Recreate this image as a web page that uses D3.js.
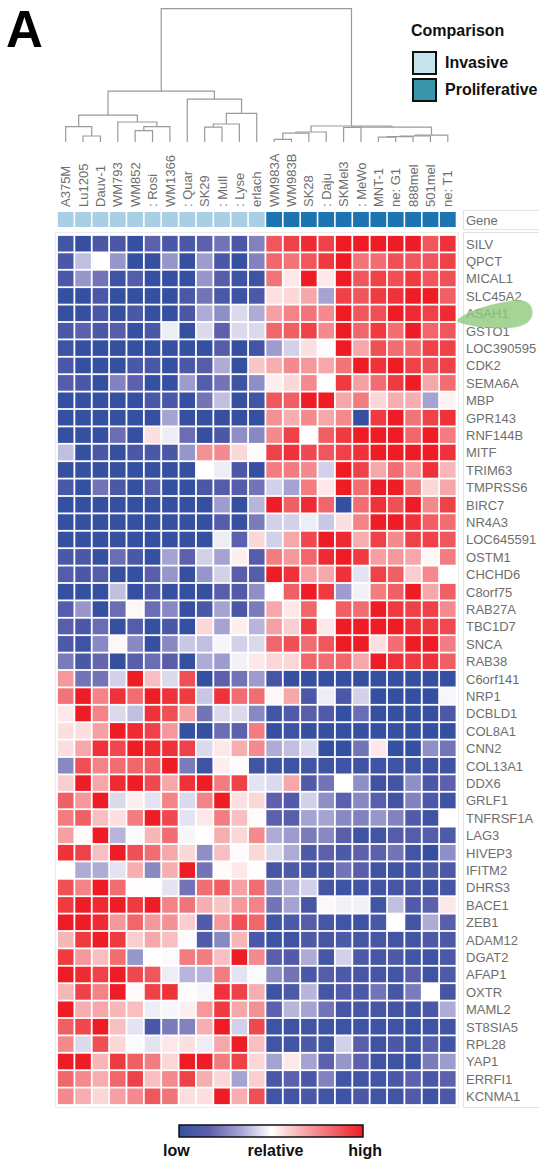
<!DOCTYPE html>
<html><head><meta charset="utf-8">
<script src="https://cdn.jsdelivr.net/npm/d3@7"></script>
<style>html,body{margin:0;padding:0;background:#fff}svg{display:block}</style>
</head><body>
<script>
const samples = ["A375M","Lu1205","Dauv-1","WM793","WM852",": Rosi","WM1366",": Quar","SK29",": Mull",": Lyse","erlach",
 "WM983A","WM983B","SK28",": Daju","SKMel3",": MeWo","MNT-1","ne: G1","888mel","501mel","ne: T1"];
const sampleGroup = ["Invasive","Invasive","Invasive","Invasive","Invasive","Invasive","Invasive","Invasive","Invasive","Invasive","Invasive","Invasive",
 "Proliferative","Proliferative","Proliferative","Proliferative","Proliferative","Proliferative","Proliferative","Proliferative","Proliferative","Proliferative","Proliferative"];
const groupNames = ["Invasive","Proliferative"];
const genes = ["SILV","QPCT","MICAL1","SLC45A2","ASAH1","GSTO1","LOC390595","CDK2","SEMA6A","MBP","GPR143","RNF144B","MITF","TRIM63","TMPRSS6","BIRC7","NR4A3","LOC645591","OSTM1","CHCHD6","C8orf75","RAB27A","TBC1D7","SNCA","RAB38","C6orf141","NRP1","DCBLD1","COL8A1","CNN2","COL13A1","DDX6","GRLF1","TNFRSF1A","LAG3","HIVEP3","IFITM2","DHRS3","BACE1","ZEB1","ADAM12","DGAT2","AFAP1","OXTR","MAML2","ST8SIA5","RPL28","YAP1","ERRFI1","KCNMA1"];
// relative expression (low < 0 < high), one row per gene, one value per sample
const expression = [
 [-2.7,-3,-2.5,-2.5,-3,-2,-2.5,-2.5,-2,-1.7,-2.5,-1.5, 2.2,2.5,2.8,2.5,3,3,3,3,3,2.2,2.7],
 [-2.5,-0.7,0,-1.2,-3,-3,-1.2,-3,-1.1,-2.5,-3,-1.5, 2,1.8,2.2,2.6,3,1.8,1.9,2.3,2.2,2.2,2.5],
 [-2.5,-1.2,-1.7,-2.8,-2.2,-3,-3,-3,-1.2,-2.2,-2.8,-2.8, 1.8,0.3,3,0.3,3,2.2,2.5,2.3,2.6,2.2,2.3],
 [-3,-3,-2.5,-3,-3,-3,-3,-2.5,-1.7,-2.5,-2.8,-2.5, 0.4,0.5,1.1,-1,2.5,2.2,2.6,2.7,3,3,2.1],
 [-3,-3,-2.5,-3,-2.5,-3,-3,-2.5,-0.9,-1.3,-0.4,-0.9, 1.2,1.6,1.8,1.5,3,2.2,2.3,3,2.8,2.5,2.8],
 [-2.5,-2,-2.5,-2.2,-3,-2.5,-0.2,-3,-0.4,-2,-0.4,-0.4, 2,2.1,2.5,1.5,3,2,2.6,1.9,3,2,2.2],
 [-2.8,-3,-3,-3,-3,-3,-3,-3,-3,-2.2,-3,-2.7, -1.1,-0.5,0.4,-0.05,3,1.1,2.3,1.9,1.9,2.5,2.5],
 [-2.5,-3,-3,-3,-2.5,-2.5,-3,-2.5,-2.2,-0.9,-3,0.7, 1,1.5,1.3,1.1,1.8,3,2.7,3,2.5,2.3,2.5],
 [-2.2,-2.5,-3,-1.5,-2,-3,-3,-1.1,-2.2,-1.7,-2.8,-1.3, 0.2,0.5,1.5,0,2.6,1.2,1.9,2.6,3,1.1,1.9],
 [-3,-3,-3,-3,-3,-2.5,-2.5,-3,-1.7,-0.7,-3,-2.7, 2.2,2.1,3,3,1.1,1.7,0.5,1,1,-1,0.15],
 [-3,-3,-3,-3,-3,-3,-1,-3,-3,-3,-3,-3, 1.4,1,1.5,1.1,1.5,-3,2.6,3,1.8,2.5,2.7],
 [-3,-3,-3,-1.8,-3,0.4,-0.2,-1.8,-3,-2.5,-1.3,-1.4, 1.5,2.5,0,2.1,2.6,3,3,3,2,3,1.7],
 [-0.7,-3,-2.5,-3,-2.5,-2.5,-2.5,-1.2,1.4,1.5,0.5,0.05, 2.5,2.7,2.4,2.2,2.5,2.7,3,3,3,3,2.7],
 [-3,-3,-3,-3,-3,-3,-3,-3,0,-0.2,-2.5,-3, 1.7,1.7,1.5,-0.5,3,2.5,1.1,1.9,1.3,2.7,0.9],
 [-2.5,-3,-1.7,-2.5,-3,-2.2,-3,-3,-2.5,-2.2,-2.2,-1.7, -0.5,-1,1.7,0.3,3,1.9,3,3,1.7,0.5,1.1],
 [-3,-3,-3,-3,-3,-3,-3,-3,-3,-1.1,-3,-0.8, 3,2.1,2.8,2,-3,1.9,2.7,2.3,3,1.5,2.5],
 [-3,-3,-3,-3,-3,-3,-3,-3,-3,-2.2,-3,-1.6, -0.5,-0.5,-0.2,-0.6,0.4,1.6,3,3,2.7,2.1,1.9],
 [-3,-3,-3,-3,-3,-3,-3,-3,-3,-0.2,-2,0.5, -0.5,1.1,2.4,3,2.8,1,2.5,1.5,2.5,2.5,2.2],
 [-2.5,-2.5,-3,-1.8,-2.5,-3,-1,-2,-0.5,-1,0.2,-2.2, 1.7,1.3,2,2.8,3,2.6,1.2,1.3,1.1,0.1,1.7],
 [-2.2,-2.5,-2.2,-3,-3,-2.1,-1.2,-3,-1.2,-0.5,-2.1,-2.2, 3,2.7,1.2,1.1,2.7,-0.3,2.5,2.1,0.6,1.5,0],
 [-3,-3,-3,-0.7,-3,-2.5,-3,-3,-3,-2.1,-2.3,-1.3, 0,2.1,3,2.6,-1.1,-0.15,1.7,2.1,3,1.1,2.1],
 [-2.2,-1.2,-3,-1.8,0.1,-1.8,-1.4,-3,-2.5,-1,-2.5,-1.6, 1.1,0.3,2,0,2.1,1.9,3,2.6,2.5,2.5,1.5],
 [-2.1,-2.5,-1.8,-3,-2.2,-3,-2.5,-3,0.5,-1,0.2,-0.8, 1.2,0.6,2.6,0.3,3,3,3,3,2.7,2.6,2.4],
 [-2.4,-2.8,-1.4,0.1,-1.4,-3,-1.4,-0.6,-0.7,-0.1,-0.5,-0.4, 2,2.3,1.9,2.2,3,3,0.4,1.9,3,3,1.7],
 [-1.6,-2.5,-1.9,-3,-2.1,-1.8,-2.1,-3,-0.9,-1.1,-0.15,0.3, 0.5,0.5,2,1.9,2,1.1,3,2.7,2.6,2.7,2.1],
 [1.3,-1.7,-1.7,-0.5,3,0.8,-0.4,2.3,-3,-2,-1.7,-1.1, -2.6,-3,-3,-3,-3,-3,-3,-3,-3,-3,-3],
 [1.8,3,1.6,2.7,1.9,3,2.7,2.6,-0.6,2.7,1.9,1.9, 0.1,1.1,-2.5,-0.2,-2.5,-0.5,-3,-3,-3,-3,-0.1],
 [0.3,3,1.6,-0.4,-0.7,2.7,2.3,1.2,-1.7,-0.4,-0.4,-1.4, -2.7,-2.3,-2.1,-2.3,-3,-1.8,-3,-3,-3,-3,-2.5],
 [0.4,0.4,1.2,3,2.8,2.5,1.3,-3,-3,-1.8,-2,1.7, -3,-2.8,-3,-3,-3,-3,-3,-3,-3,-3,-3],
 [0.4,1.1,2.7,2.4,3,2.8,2.7,2.5,-0.4,0.3,1,1.5, -0.9,-0.7,-0.4,-3,-3,-1.7,0.3,-3,-3,-1.3,-1.7],
 [-1.4,2.3,1.6,1.9,2,2.1,3,-1.6,-2.8,0.2,0.05,-2.7, -2.8,-2.8,-2.7,-2.8,-2.8,-2.8,-2.8,-2.8,-2.8,-2.8,-2.8],
 [0.6,3,1.1,2.8,3,2.4,1.1,2.7,3,1.7,2.5,-0.3, -0.4,1.1,-2.3,-1.7,0,-1.3,-2.8,-2.7,-1.3,-2.5,-2],
 [2.1,1.3,3,-0.4,0.2,-0.3,1.6,-0.4,1.6,3,0.4,0.5, -2,-2.3,-0.5,-1.3,-2,-1.4,-2.1,-2.7,-1.5,-2.4,-2.8],
 [1.7,2.1,0.8,0.4,1.7,3,2.4,-0.3,0.3,1.7,0.8,0.05, -2,-2.1,-1,-1,-1.4,-1.5,-1.2,-1.5,-2.3,-2.8,0],
 [1.2,0.05,3,-0.8,-0.05,0.9,1.9,-0.1,0,1,0.5,1.5, -0.9,-1.1,-1.6,-1.4,-2.1,-2.8,-2.7,-2.2,-2.2,-2.2,-2.4],
 [2.7,2.5,0.8,3,2.3,1.9,1.1,0.5,-1.3,0.8,0.05,0.5, -0.4,-0.9,-2.4,-2,-2.4,-2,-2,-1.7,-2.7,-3,-1.3],
 [0,-0.9,-0.9,-0.3,1,-1.4,1,3,-1.7,0.05,0.3,0.02, -2.6,-2.4,-2.6,-2.7,-1.7,-2.1,-2.8,-2.8,-2.7,-2.4,-2.5],
 [2.3,1.6,3,1.9,0.02,0.02,-0.3,-1.7,1.9,2.1,1.2,1.9, -1.3,-0.9,-0.5,-2.6,-2.8,-2.7,-2.7,-2.6,-2.6,-2.8,-2.6],
 [2.6,3,2.8,3,2.6,3,1.6,1.8,1,0.7,1.3,1.6, -1.7,-1,-2.6,0.1,-0.15,-0.15,-2.7,-0.7,-2.3,-2,0.3],
 [3,3,2.8,1.3,2,1.3,1.4,0.6,-2.3,1.3,2.3,2, -2.7,-2.4,-2.2,-2.6,-2.7,-2.8,-2.5,0,-2.7,-0.9,-2.1],
 [0.9,2.6,3,2.6,0.6,1.1,0.8,-0.05,-2.3,-1.4,0.9,-2.5, -2.8,-2.8,-2.4,-2.6,-2.4,-2.6,-2.6,-2.7,-2.7,-2.4,-2.5],
 [2.6,1.3,0.8,1.9,-1.2,0,-0.05,1.7,1.7,0.8,3,1.5, -2.1,-2.3,-0.9,-2.6,-0.5,-2.4,-2.6,-2.4,-2.7,-2.8,-2.5],
 [3,2.8,2.5,3,2.4,2.2,-0.2,-0.8,-0.8,1.7,-0.3,-0.05, -1.3,-1.7,-2.5,-2.2,-2.4,-2.6,-2.6,-2.7,-2.1,-2.8,-2.4],
 [0.9,2.5,1.6,3,0.05,2.5,2.7,0.05,-0.1,2.7,2.5,1, -2.8,-2.4,-0.8,-2.6,-2.3,-2.5,-1.7,-2.6,-1.6,0,-2.6],
 [3,1,1.1,0.9,0.8,-0.2,-0.1,0.2,1.3,2.6,1.1,1.4, -2,-0.8,-1,-1.7,-2.6,-2.6,-2.6,-2.7,-2.7,-2.5,-0.9],
 [2.1,2.4,3,0.8,-0.3,-2.5,-1.6,-1.5,1,3,-0.5,2.4, -2.8,-2.8,-2.7,-2.8,-2.8,-2.8,-2.8,-2.8,-2.9,-2.8,-2.7],
 [1.5,-0.4,2.3,0.5,-0.05,-0.3,0.3,0.4,-0.2,1.1,3,0.8, -2.7,-2.7,-2.4,-2.7,-0.5,-2.1,-2.8,-2.5,-2.7,-2.1,-2.7],
 [3,3,0.9,2.6,2.1,1.7,0.5,3,3,1.7,2.5,0.5, -1,0.3,-1,-2,-1.2,-2,-2.8,-2.8,-2.8,-1.6,-1.1],
 [2,1.5,1,2,2.5,0.8,1.5,2.5,1,0.5,-1,0.6, -2.5,-2,-2.5,-1.5,-2.7,-2.7,-2.7,-2.5,-2,-2.5,-2],
 [1.5,1,0.5,1.2,1.5,2.2,1.8,0.4,0.4,3,1,2.3, -2.7,-2.7,-2.5,-2.7,-2.8,-2.5,-2.7,-2.7,-2.3,-2.8,-2.5]
];
// sample dendrogram: [childA, childB, height]; leaves 0..22, merge k creates node 23+k
const dendroMerges = [
 [1,2,0.45],[0,23,1.16],[4,5,0.85],[25,6,1.16],[3,26,1.5],[24,27,2.02],
 [8,9,1.12],[29,10,1.35],[30,11,2.14],[7,31,3.22],[28,32,3.82],
 [12,13,0.2],[34,14,0.67],[35,15,0.75],
 [18,19,0.37],[37,20,0.41],[38,21,0.45],[39,22,0.52],[16,17,1.1],[41,40,1.12],[36,42,1.2],
 [33,43,10]
];
const legendStops = [-3,-2,-1,0,1,2,3];
const legendColors = ["#3650a1","#5d60ac","#a5a3d2","#ffffff","#f7aeb1","#f0666b","#ee1c24"];
const legendLabels = ["low","relative","high"];

const W = 539, H = 1162;
const svg = d3.select("body").append("svg").attr("width", W).attr("height", H)
  .style("font-family","'Liberation Sans', Arial, sans-serif");

const x = d3.scaleBand().domain(d3.range(samples.length)).range([57, 456.5]);
const y = d3.scaleBand().domain(genes).range([235, 1105]);
const color = d3.scaleLinear().domain(legendStops).range(legendColors).clamp(true);
const groupColor = d3.scaleOrdinal().domain(groupNames).range(["#a9cfe4","#1c74b3"]);
const legendGroupColor = d3.scaleOrdinal().domain(groupNames).range(["#c6e4ec","#3a96a9"]);

// panel letter
svg.append("text").attr("x",6).attr("y",47).attr("font-size",51).attr("font-weight","bold").attr("fill","#000").text("A");

// dendrogram
const nLeaf = samples.length;
const dy = d3.scaleLinear().domain([0,10]).range([142, 8.6]);
const nodes = d3.range(nLeaf).map(i => ({x: x(i) + x.bandwidth()/2, h: 0}));
dendroMerges.forEach(([a,b,h]) => nodes.push({x:(nodes[a].x+nodes[b].x)/2, h, a, b}));
const dg = svg.append("g").attr("stroke","#9a9a9a").attr("stroke-width",1.2).attr("fill","none");
nodes.forEach(n => {
  if (n.a === undefined) return;
  const A = nodes[n.a], B = nodes[n.b];
  dg.append("path").attr("d",
    `M${A.x},${dy(A.h)}V${dy(n.h)}H${B.x}V${dy(B.h)}`);
});

// group legend
const lg = svg.append("g");
lg.append("text").attr("x",411).attr("y",36).attr("font-size",16).attr("font-weight","bold").attr("fill","#111").text("Comparison");
groupNames.forEach((g,i) => {
  lg.append("rect").attr("x",413).attr("y",52+i*27).attr("width",23).attr("height",22)
    .attr("fill",legendGroupColor(g)).attr("stroke","#111").attr("stroke-width",2);
  lg.append("text").attr("x",445).attr("y",68+i*27).attr("font-size",16).attr("font-weight","bold").attr("fill","#111").text(g);
});

// column labels
svg.append("g").selectAll("text").data(samples).join("text")
  .attr("transform",(d,i)=>`translate(${x(i)+x.bandwidth()/2+4.6},207) rotate(-90)`)
  .attr("font-size",13).attr("fill","#6e6e6e").text(d=>d);

// annotation bar
svg.append("g").selectAll("rect").data(sampleGroup).join("rect")
  .attr("x",(d,i)=>x(i)+0.8).attr("y",212).attr("width",x.bandwidth()-1.6).attr("height",15)
  .attr("fill",d=>groupColor(d));

// label boxes
svg.append("rect").attr("x",463.5).attr("y",210.5).attr("width",90).attr("height",19).attr("fill","none").attr("stroke","#e2e2e2");
svg.append("text").attr("x",466).attr("y",225).attr("font-size",13).attr("fill","#6e6e6e").text("Gene");
svg.append("rect").attr("x",463.5).attr("y",232.5).attr("width",90).attr("height",875).attr("fill","none").attr("stroke","#e2e2e2");
svg.append("rect").attr("x",55.5).attr("y",232.5).attr("width",403).attr("height",875).attr("fill","none").attr("stroke","#ececec");

// heatmap
const cells = [];
expression.forEach((row,r) => row.forEach((v,c) => cells.push({r,c,v})));
svg.append("g").selectAll("rect").data(cells).join("rect")
  .attr("x",d=>x(d.c)+0.9).attr("y",d=>y(genes[d.r])+0.9)
  .attr("width",x.bandwidth()-1.8).attr("height",y.bandwidth()-1.8)
  .attr("fill",d=>color(d.v));

// row labels
svg.append("g").selectAll("text").data(genes).join("text")
  .attr("x",466).attr("y",d=>y(d)+y.bandwidth()/2+4.8)
  .attr("font-size",13).attr("fill","#6e6e6e").text(d=>d);

// highlight blob over ASAH1
const yA = y("ASAH1") + y.bandwidth()/2;
svg.append("path")
  .attr("d",`M457,${yA+7} C468,${yA-4} 494,${yA-10} 514,${yA-13} C533,${yA-16} 537,${yA+1} 528,${yA+9} C518,${yA+17} 492,${yA+16} 474,${yA+13} C463,${yA+11} 457,${yA+9} 457,${yA+7} Z`)
  .attr("fill","#8fc97c").attr("opacity",0.8);

// colour legend
const defs = svg.append("defs");
const grad = defs.append("linearGradient").attr("id","lg");
legendStops.forEach((s,i)=>grad.append("stop").attr("offset",(s+3)/6).attr("stop-color",legendColors[i]));
svg.append("rect").attr("x",179).attr("y",1125).attr("width",184).attr("height",12)
  .attr("fill","url(#lg)").attr("stroke","#111").attr("stroke-width",1.5);
const lx = [163, 275.5, 382], la = ["start","middle","end"];
legendLabels.forEach((t,i)=>svg.append("text").attr("x",lx[i]).attr("y",1156).attr("text-anchor",la[i])
  .attr("font-size",16).attr("font-weight","bold").attr("fill","#111").text(t));
</script>
</body></html>
